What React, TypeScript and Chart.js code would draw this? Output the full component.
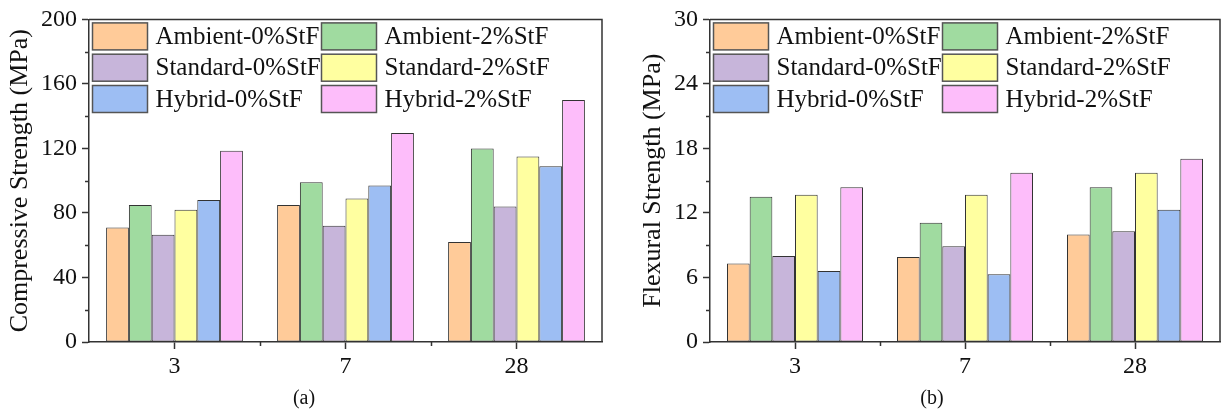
import React, { useEffect, useRef } from "react";
import { Chart, registerables } from "chart.js";

Chart.register(...registerables);

const AGES = ["3", "7", "28"];
const SERIES = [
  "Ambient-0%StF",
  "Ambient-2%StF",
  "Standard-0%StF",
  "Standard-2%StF",
  "Hybrid-0%StF",
  "Hybrid-2%StF",
];
const COLORS = ["#FFCB99", "#A0DBA0", "#C7B5DA", "#FFFFA0", "#9DBEF3", "#FDBDFA"];

// Compressive strength (MPa)
const COMP_AMBIENT_0 = [71, 85, 62];
const COMP_AMBIENT_2 = [85, 99, 120];
const COMP_STANDARD_0 = [66.5, 72, 84];
const COMP_STANDARD_2 = [82, 89, 115];
const COMP_HYBRID_0 = [88, 97, 109];
const COMP_HYBRID_2 = [118.5, 129.5, 150];

// Flexural strength (MPa)
const FLEX_AMBIENT_0 = [7.3, 7.9, 10.0];
const FLEX_AMBIENT_2 = [13.5, 11.1, 14.4];
const FLEX_STANDARD_0 = [8.0, 8.9, 10.3];
const FLEX_STANDARD_2 = [13.7, 13.7, 15.75];
const FLEX_HYBRID_0 = [6.6, 6.3, 12.3];
const FLEX_HYBRID_2 = [14.4, 15.75, 17.05];

const COMP_VALUES = [COMP_AMBIENT_0, COMP_AMBIENT_2, COMP_STANDARD_0, COMP_STANDARD_2, COMP_HYBRID_0, COMP_HYBRID_2];
const FLEX_VALUES = [FLEX_AMBIENT_0, FLEX_AMBIENT_2, FLEX_STANDARD_0, FLEX_STANDARD_2, FLEX_HYBRID_0, FLEX_HYBRID_2];

const FONT = "'Liberation Serif', 'Times New Roman', serif";
const AXIS_COLOR = "#333";
const TEXT_COLOR = "#111";

const framePlugin = {
  id: "frameAndMinor",
  afterDraw(chart: any) {
    const { ctx, chartArea } = chart;
    const { left, right, top, bottom } = chartArea;
    ctx.save();
    ctx.strokeStyle = AXIS_COLOR;
    ctx.lineWidth = 1.5;
    ctx.beginPath();
    ctx.moveTo(left, top);
    ctx.lineTo(right, top);
    ctx.lineTo(right, bottom);
    ctx.stroke();
    // minor ticks on y
    const y = chart.scales.y;
    const step = chart.options.scales.y.ticks.stepSize;
    for (let v = step / 2; v < y.max; v += step) {
      const py = Math.round(y.getPixelForValue(v)) + 0.5;
      ctx.beginPath();
      ctx.moveTo(left - 4, py);
      ctx.lineTo(left, py);
      ctx.stroke();
    }
    // minor ticks on x (category boundaries)
    const x = chart.scales.x;
    for (let i = 0; i < x.ticks.length - 1; i++) {
      const px = Math.round((x.getPixelForValue(i) + x.getPixelForValue(i + 1)) / 2) + 0.5;
      ctx.beginPath();
      ctx.moveTo(px, bottom);
      ctx.lineTo(px, bottom + 4);
      ctx.stroke();
    }
    ctx.restore();
  },
};

const legendPlugin = {
  id: "insideLegend",
  afterDraw(chart: any) {
    const { ctx, chartArea } = chart;
    const ds = chart.data.datasets;
    ctx.save();
    ctx.font = `25px ${FONT}`;
    ctx.textBaseline = "middle";
    ctx.textAlign = "left";
    for (let i = 0; i < ds.length; i++) {
      const col = i % 2;
      const row = Math.floor(i / 2);
      const bx = chartArea.left + 3.5 + col * 229;
      const by = chartArea.top + 3.5 + row * 31.3;
      ctx.fillStyle = ds[i].backgroundColor;
      ctx.fillRect(bx, by, 55, 27);
      ctx.strokeStyle = "#555";
      ctx.lineWidth = 1.5;
      ctx.strokeRect(bx, by, 55, 27);
      ctx.fillStyle = TEXT_COLOR;
      ctx.fillText(ds[i].label, bx + 63, by + 14.5);
    }
    ctx.restore();
  },
};

type PanelProps = {
  values: number[][];
  max: number;
  step: number;
  title: string;
  width: number;
  padLeft: number;
  padRight: number;
  yWidth: number;
};

function Panel({ values, max, step, title, width, padLeft, padRight, yWidth }: PanelProps) {
  const ref = useRef<HTMLCanvasElement | null>(null);
  useEffect(() => {
    if (!ref.current) return;
    const tickFont = { family: FONT, size: 24 };
    const chart = new Chart(ref.current, {
      type: "bar",
      data: {
        labels: AGES,
        datasets: SERIES.map((name, i) => ({
          label: name,
          data: values[i],
          backgroundColor: COLORS[i],
          borderColor: "#333",
          borderWidth: 1,
          borderSkipped: false,
          inflateAmount: 0,
          categoryPercentage: 0.8,
          barPercentage: 1,
        })),
      },
      options: {
        responsive: false,
        maintainAspectRatio: false,
        animation: false,
        datasets: { bar: { categoryPercentage: 0.8, barPercentage: 1 } },
        layout: { padding: { top: 17, left: padLeft, right: padRight, bottom: 0 } },
        plugins: { legend: { display: false }, tooltip: { enabled: false } },
        scales: {
          x: {
            offset: true,
            grid: {
              display: true,
              offset: false,
              drawOnChartArea: false,
              drawTicks: true,
              tickLength: 7,
              tickColor: AXIS_COLOR,
              tickWidth: 1.5,
            },
            border: { display: true, color: AXIS_COLOR, width: 1.5 },
            ticks: { font: tickFont, color: TEXT_COLOR, padding: 3, maxRotation: 0 },
            afterFit: (s: any) => {
              s.height = 70;
            },
          },
          y: {
            min: 0,
            max,
            ticks: { stepSize: step, font: tickFont, color: TEXT_COLOR, padding: 5 },
            grid: {
              display: true,
              drawOnChartArea: false,
              drawTicks: true,
              tickLength: 7,
              tickColor: AXIS_COLOR,
              tickWidth: 1.5,
            },
            border: { display: true, color: AXIS_COLOR, width: 1.5 },
            title: {
              display: true,
              text: title,
              font: { family: FONT, size: 26 },
              color: TEXT_COLOR,
              padding: 0,
            },
            afterFit: (s: any) => {
              s.width = yWidth;
            },
          },
        },
      } as any,
      plugins: [framePlugin, legendPlugin],
    });
    return () => chart.destroy();
  }, []);
  return <canvas ref={ref} width={width} height={412} style={{ width, height: 412, display: "block" }} />;
}

export default function App() {
  return (
    <div style={{ position: "absolute", left: 0, top: 0, width: 1221, height: 412, background: "#fff", overflow: "hidden" }}>
      <div style={{ position: "absolute", left: 0, top: 0 }}>
        <Panel values={COMP_VALUES} max={200} step={40} title="Compressive Strength (MPa)" width={610} padLeft={5} padRight={8} yWidth={84} />
      </div>
      <div style={{ position: "absolute", left: 610, top: 0 }}>
        <Panel values={FLEX_VALUES} max={30} step={6} title="Flexural Strength (MPa)" width={611} padLeft={28} padRight={1} yWidth={72} />
      </div>
      <div style={{ position: "absolute", left: 284, top: 387, width: 40, textAlign: "center", font: `20px/20px ${FONT}`, color: TEXT_COLOR }}>(a)</div>
      <div style={{ position: "absolute", left: 912, top: 387, width: 40, textAlign: "center", font: `20px/20px ${FONT}`, color: TEXT_COLOR }}>(b)</div>
    </div>
  );
}
